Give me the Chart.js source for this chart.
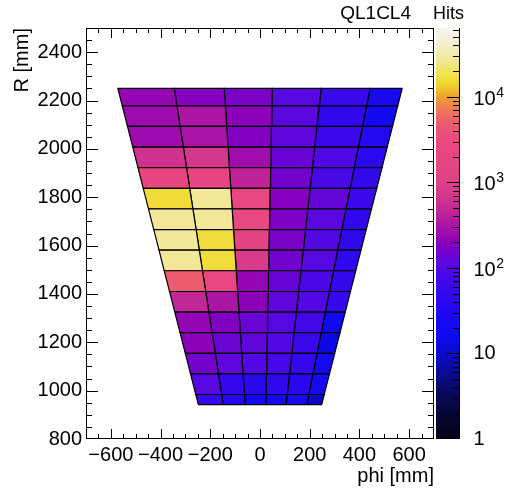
<!DOCTYPE html>
<html>
<head>
<meta charset="utf-8">
<script src="https://cdn.jsdelivr.net/npm/chart.js@4/dist/chart.umd.min.js"></script>
<style>
  html, body { margin: 0; padding: 0; background: #fff; }
  canvas { display: block; }
</style>
</head>
<body>
<canvas id="c" width="506" height="489"></canvas>
<script>
// Radial bin edges of the pad rows [mm], inner to outer
const rEdges = [942, 984, 1069, 1154, 1240, 1325, 1410, 1496, 1581, 1666, 1752, 1837, 1922, 2007, 2093, 2178, 2250];
// phi edges of the pad columns at the innermost and outermost radius [mm]
const phiEdgesInner = [-248, -148, -60, 23, 105, 188, 248];
const phiEdgesOuter = [-572, -345, -144, 49, 246, 443, 572];
// Hits per pad, one list per radial row (inner to outer), columns left to right
const hits = [
  [52, 35, 20, 20, 25, 9],
  [107, 50, 40, 45, 40, 22],
  [151, 120, 100, 76, 52, 22],
  [200, 141, 120, 100, 60, 14],
  [224, 178, 141, 107, 71, 18],
  [480, 316, 200, 120, 100, 52],
  [5000, 2500, 224, 132, 83, 52],
  [27000, 16000, 800, 151, 107, 45],
  [27000, 16000, 1260, 166, 100, 45],
  [27000, 27000, 2500, 170, 110, 45],
  [15800, 27000, 2500, 186, 126, 60],
  [2000, 2000, 447, 151, 83, 50],
  [631, 708, 263, 138, 95, 42],
  [251, 302, 182, 120, 60, 35],
  [251, 316, 200, 112, 48, 20],
  [224, 186, 166, 107, 58, 24]
];
// Axis ticks
const xTicks = [-600, -400, -200, 0, 200, 400, 600];
const yTicks = [800, 1000, 1200, 1400, 1600, 1800, 2000, 2200, 2400];
const zDecades = [1, 10, 100, 1000, 10000];
const zMin = 1, zMax = 64000;

// Colour palette: stops in log10(hits)
const paletteStops = [
  [0.00, [5, 3, 20]],
  [0.25, [6, 6, 50]],
  [0.50, [8, 8, 85]],
  [0.75, [10, 10, 140]],
  [1.00, [10, 10, 205]],
  [1.20, [12, 10, 240]],
  [1.50, [32, 8, 240]],
  [1.75, [56, 8, 236]],
  [2.00, [82, 8, 226]],
  [2.15, [106, 4, 210]],
  [2.30, [140, 0, 186]],
  [2.45, [165, 16, 168]],
  [2.65, [190, 36, 152]],
  [2.85, [212, 56, 140]],
  [3.10, [228, 68, 132]],
  [3.50, [234, 72, 128]],
  [3.70, [238, 92, 112]],
  [3.85, [240, 120, 88]],
  [4.00, [240, 160, 50]],
  [4.15, [240, 215, 40]],
  [4.30, [240, 228, 90]],
  [4.45, [242, 232, 160]],
  [4.65, [244, 240, 214]],
  [4.81, [246, 246, 244]]
];
function paletteColor(v) {
  const t = Math.log10(Math.max(v, zMin));
  let a = paletteStops[0], b = paletteStops[paletteStops.length - 1];
  if (t <= a[0]) return `rgb(${a[1].join(',')})`;
  if (t >= b[0]) return `rgb(${b[1].join(',')})`;
  for (let i = 0; i < paletteStops.length - 1; i++) {
    if (t >= paletteStops[i][0] && t <= paletteStops[i + 1][0]) { a = paletteStops[i]; b = paletteStops[i + 1]; break; }
  }
  const f = (t - a[0]) / (b[0] - a[0]);
  const c = a[1].map((x, k) => Math.round(x + f * (b[1][k] - x)));
  return `rgb(${c.join(',')})`;
}

// Column edge position at radius r (straight column boundaries)
const rIn = rEdges[0], rOut = rEdges[rEdges.length - 1];
function phiAt(k, r) {
  const f = (r - rIn) / (rOut - rIn);
  return phiEdgesInner[k] + f * (phiEdgesOuter[k] - phiEdgesInner[k]);
}

// One closed quadrilateral per pad
const datasets = [];
hits.forEach((row, i) => {
  const r0 = rEdges[i], r1 = rEdges[i + 1];
  row.forEach((v, j) => {
    datasets.push({
      data: [
        { x: phiAt(j, r0), y: r0 },
        { x: phiAt(j + 1, r0), y: r0 },
        { x: phiAt(j + 1, r1), y: r1 },
        { x: phiAt(j, r1), y: r1 },
        { x: phiAt(j, r0), y: r0 }
      ],
      backgroundColor: paletteColor(v),
      borderColor: '#000',
      borderWidth: 1.2,
      fill: 'shape',
      pointRadius: 0,
      tension: 0
    });
  });
});

const FONT = '"Liberation Sans", Arial, Helvetica, sans-serif';
Chart.defaults.font.family = FONT;
Chart.defaults.color = '#000';

// Frame, inward ticks, colour bar and text
const decorations = {
  id: 'decorations',
  afterDraw(chart) {
    const ctx = chart.ctx;
    const { left, right, top, bottom } = chart.chartArea;
    const xs = chart.scales.x, ys = chart.scales.y, zs = chart.scales.z;
    ctx.save();
    ctx.strokeStyle = '#000';
    ctx.lineWidth = 1;

    // frame
    ctx.strokeRect(Math.round(left) + 0.5, Math.round(top) + 0.5, Math.round(right - left) - 1, Math.round(bottom - top) - 1);

    ctx.beginPath();
    // x ticks, bottom and top
    for (let v = xs.min + 50; v < xs.max; v += 50) {
      const px = Math.round(xs.getPixelForValue(v)) + 0.5;
      const len = (v % 200 === 0) ? 10 : 5;
      ctx.moveTo(px, bottom); ctx.lineTo(px, bottom - len);
      ctx.moveTo(px, top); ctx.lineTo(px, top + len);
    }
    // y ticks, left and right
    for (let v = ys.min + 50; v < ys.max; v += 50) {
      const py = Math.round(ys.getPixelForValue(v)) + 0.5;
      const len = ((v - 800) % 200 === 0) ? 12 : 6;
      ctx.moveTo(left, py); ctx.lineTo(left + len, py);
      ctx.moveTo(right, py); ctx.lineTo(right - len, py);
    }
    ctx.stroke();

    // colour bar
    const barL = Math.round(zs.left) + 2, barR = barL + 24;
    const zTop = Math.round(zs.top), zBot = Math.round(zs.bottom);
    for (let y = zTop; y < zBot; y++) {
      ctx.fillStyle = paletteColor(zs.getValueForPixel(y + 0.5));
      ctx.fillRect(barL, y, barR - barL, 1);
    }
    ctx.beginPath();
    ctx.moveTo(barR - 0.5, zTop); ctx.lineTo(barR - 0.5, zBot);
    zDecades.forEach(d => {
      for (let m = 1; m <= 9; m++) {
        const v = d * m;
        if (v > zMax) break;
        const py = Math.round(zs.getPixelForValue(v)) + (v === 1 ? -0.5 : 0.5);
        const len = m === 1 ? 13 : 7;
        ctx.moveTo(barR, py); ctx.lineTo(barR - len, py);
      }
    });
    ctx.stroke();

    // colour bar labels
    ctx.fillStyle = '#000';
    ctx.textAlign = 'left';
    ctx.textBaseline = 'middle';
    const lx = barR + 13.5;
    zDecades.forEach(d => {
      const py = zs.getPixelForValue(d);
      const exp = Math.round(Math.log10(d));
      ctx.font = '20px ' + FONT;
      if (exp === 0) {
        ctx.fillText('1', lx, py);
      } else if (exp === 1) {
        ctx.fillText('10', lx, py);
      } else {
        ctx.fillText('10', lx, py + 2.5);
        const w = ctx.measureText('10').width;
        ctx.font = '14px ' + FONT;
        ctx.fillText(String(exp), lx + w + 0.5, py - 4);
      }
    });

    // titles
    ctx.font = '19px ' + FONT;
    ctx.textAlign = 'right';
    ctx.fillText('QL1CL4', 411, 14);
    ctx.font = '18px ' + FONT;
    ctx.textAlign = 'left';
    ctx.fillText('Hits', 433, 14);
    ctx.restore();
  }
};

new Chart(document.getElementById('c'), {
  type: 'line',
  data: { datasets },
  plugins: [decorations],
  options: {
    responsive: false,
    animation: false,
    events: [],
    layout: { padding: { top: 28, left: 0, right: 0, bottom: 0 } },
    plugins: { legend: { display: false }, tooltip: { enabled: false } },
    scales: {
      x: {
        type: 'linear', position: 'bottom', min: -700, max: 700,
        afterBuildTicks: s => { s.ticks = xTicks.map(v => ({ value: v })); },
        afterFit: s => { s.height = 50; },
        grid: { display: false, drawTicks: false }, border: { display: false },
        ticks: {
          autoSkip: false, maxRotation: 0, padding: 4, color: '#000',
          font: { size: 20 },
          callback: v => (v < 0 ? '\u2212' + Math.abs(v) : String(v))
        },
        title: { display: true, text: 'phi [mm]', align: 'end', color: '#000', font: { size: 20 }, padding: { top: 0, bottom: 1 } }
      },
      y: {
        type: 'linear', position: 'left', min: 800, max: 2500,
        afterBuildTicks: s => { s.ticks = yTicks.map(v => ({ value: v })); },
        afterFit: s => { s.width = 86; },
        grid: { display: false, drawTicks: false }, border: { display: false },
        ticks: { autoSkip: false, padding: 4, color: '#000', font: { size: 20 }, callback: v => String(v) },
        title: { display: true, text: 'R [mm]', align: 'end', color: '#000', font: { size: 20 }, padding: { top: 10, bottom: 0 } }
      },
      z: {
        type: 'logarithmic', axis: 'y', position: 'right', min: zMin, max: zMax,
        afterFit: s => { s.width = 72; },
        grid: { display: false, drawTicks: false }, border: { display: false },
        ticks: { display: false }
      }
    }
  }
});
</script>
</body>
</html>
